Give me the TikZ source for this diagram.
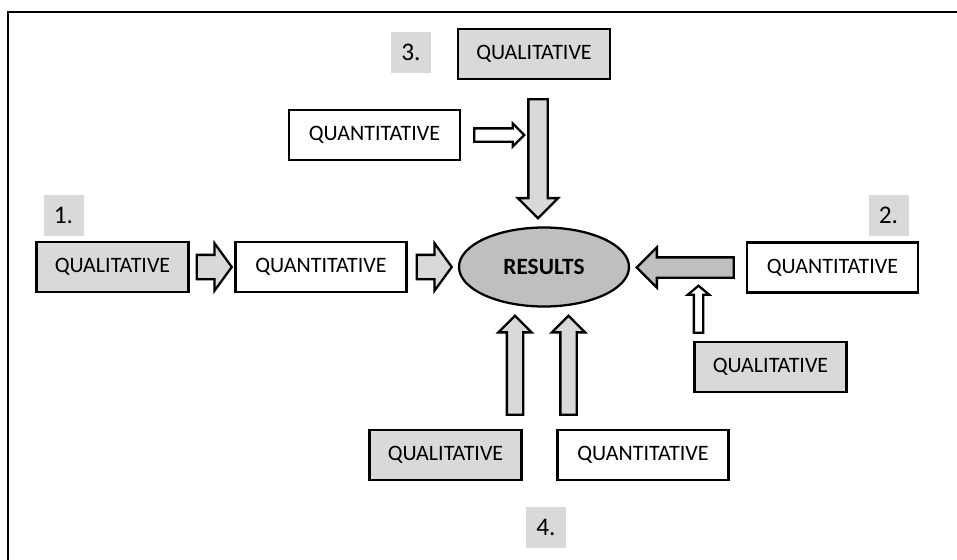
\documentclass[tikz,border=0pt]{standalone}
\usepackage{fontspec}
\setmainfont{Carlito}
\usepackage{tikz}
\usetikzlibrary{calc,shapes.geometric,shapes.arrows}

\definecolor{boxgray}{HTML}{D9D9D9}
\definecolor{resgray}{HTML}{BFBFBF}

\begin{document}
\begin{tikzpicture}[
  x=0.75pt, y=-0.75pt,
  %% style definitions
  qual/.style = {draw, line width=1.7pt, fill=boxgray,
                 minimum width=114pt, minimum height=37.5pt,
                 inner sep=0pt, font=\fontsize{16.5}{19}\selectfont},
  quan/.style = {qual, fill=white, minimum width=128.25pt},
  res/.style  = {ellipse, draw, line width=1.7pt, fill=resgray,
                 minimum width=127.5pt, minimum height=59.25pt,
                 font=\fontsize{17.5}{21}\selectfont\bfseries},
  num/.style  = {fill=boxgray, minimum width=30pt, minimum height=30.75pt,
                 inner sep=0pt, font=\fontsize{19}{22}\selectfont},
  blk/.style  = {single arrow, draw, line width=1.7pt, fill=boxgray,
                 anchor=tail, inner sep=0pt},
  frame/.style = {line width=1.5pt},
]
\useasboundingbox (0,0) rectangle (957,560);

%% ── Frame ───────────────────────────────────────────────────────────────────
\draw[frame] (8,560) |- (957,12);

%% ── Centre ──────────────────────────────────────────────────────────────────
\node[res] (res) at (544,267) {RESULTS};

%% ── 1. (left) ───────────────────────────────────────────────────────────────
\node[num]  (n1)    at (63.5,215.5) {1.};
\node[qual] (qual1) at (112.5,267)  {QUALITATIVE};
\node[quan] (quan1) at (321,267)    {QUANTITATIVE};

\node[blk, inner xsep=0pt, inner ysep=8.25pt, single arrow head extend=8.625pt,
      single arrow tip angle=108, minimum height=26.25pt]
  (a1) at ($(qual1.east)+(6,0)$) {};
\node[blk, inner xsep=0pt, inner ysep=8.25pt, single arrow head extend=8.625pt,
      single arrow tip angle=108, minimum height=26.25pt]
  (a2) at ($(quan1.east)+(8,0)$) {};

%% ── 2. (right) ──────────────────────────────────────────────────────────────
\node[num]  (n2)    at (888.5,215.5) {2.};
\node[quan] (quan2) at (832.5,267.5) {QUANTITATIVE};
\node[qual] (qual2) at (770.5,367)   {QUALITATIVE};

\node[blk, fill=resgray, inner sep=6.75pt, single arrow head extend=7.5pt,
      minimum height=72.75pt, shape border rotate=180]
  (a3) at ($(quan2.west)+(-11,0)$) {};
\node[blk, fill=white, inner sep=2.625pt, single arrow head extend=4.5pt,
      single arrow tip angle=100, minimum height=35.25pt, shape border rotate=90]
  (a4) at ($(qual2.north)+(-72,-7)$) {};

%% ── 3. (top) ────────────────────────────────────────────────────────────────
\node[num]  (n3)    at (411,52.5)  {3.};
\node[qual] (qualT) at (534,54)    {QUALITATIVE};
\node[quan] (quanT) at (374.5,135) {QUANTITATIVE};

\node[blk, inner sep=6.375pt, single arrow head extend=7.875pt,
      minimum height=89.25pt, shape border rotate=270]
  (a5) at ($(qualT.south)+(4,18)$) {};
\node[blk, fill=white, inner sep=4.125pt, single arrow head extend=3.75pt,
      minimum height=37.5pt]
  (a6) at ($(quanT.east)+(12,0)$) {};

%% ── 4. (bottom) ─────────────────────────────────────────────────────────────
\node[qual] (qual4) at (445.5,455) {QUALITATIVE};
\node[quan] (quan4) at (643,455)   {QUANTITATIVE};
\node[num]  (n4)    at (546,527)   {4.};

\node[blk, inner sep=5.25pt, single arrow head extend=6.375pt,
      minimum height=74.25pt, shape border rotate=90]
  (a7) at ($(qual4.north)+(69.5,-13)$) {};
\node[blk, inner sep=5.25pt, single arrow head extend=6.375pt,
      minimum height=74.25pt, shape border rotate=90]
  (a8) at ($(quan4.north)+(-74.5,-13)$) {};

\end{tikzpicture}
\end{document}
